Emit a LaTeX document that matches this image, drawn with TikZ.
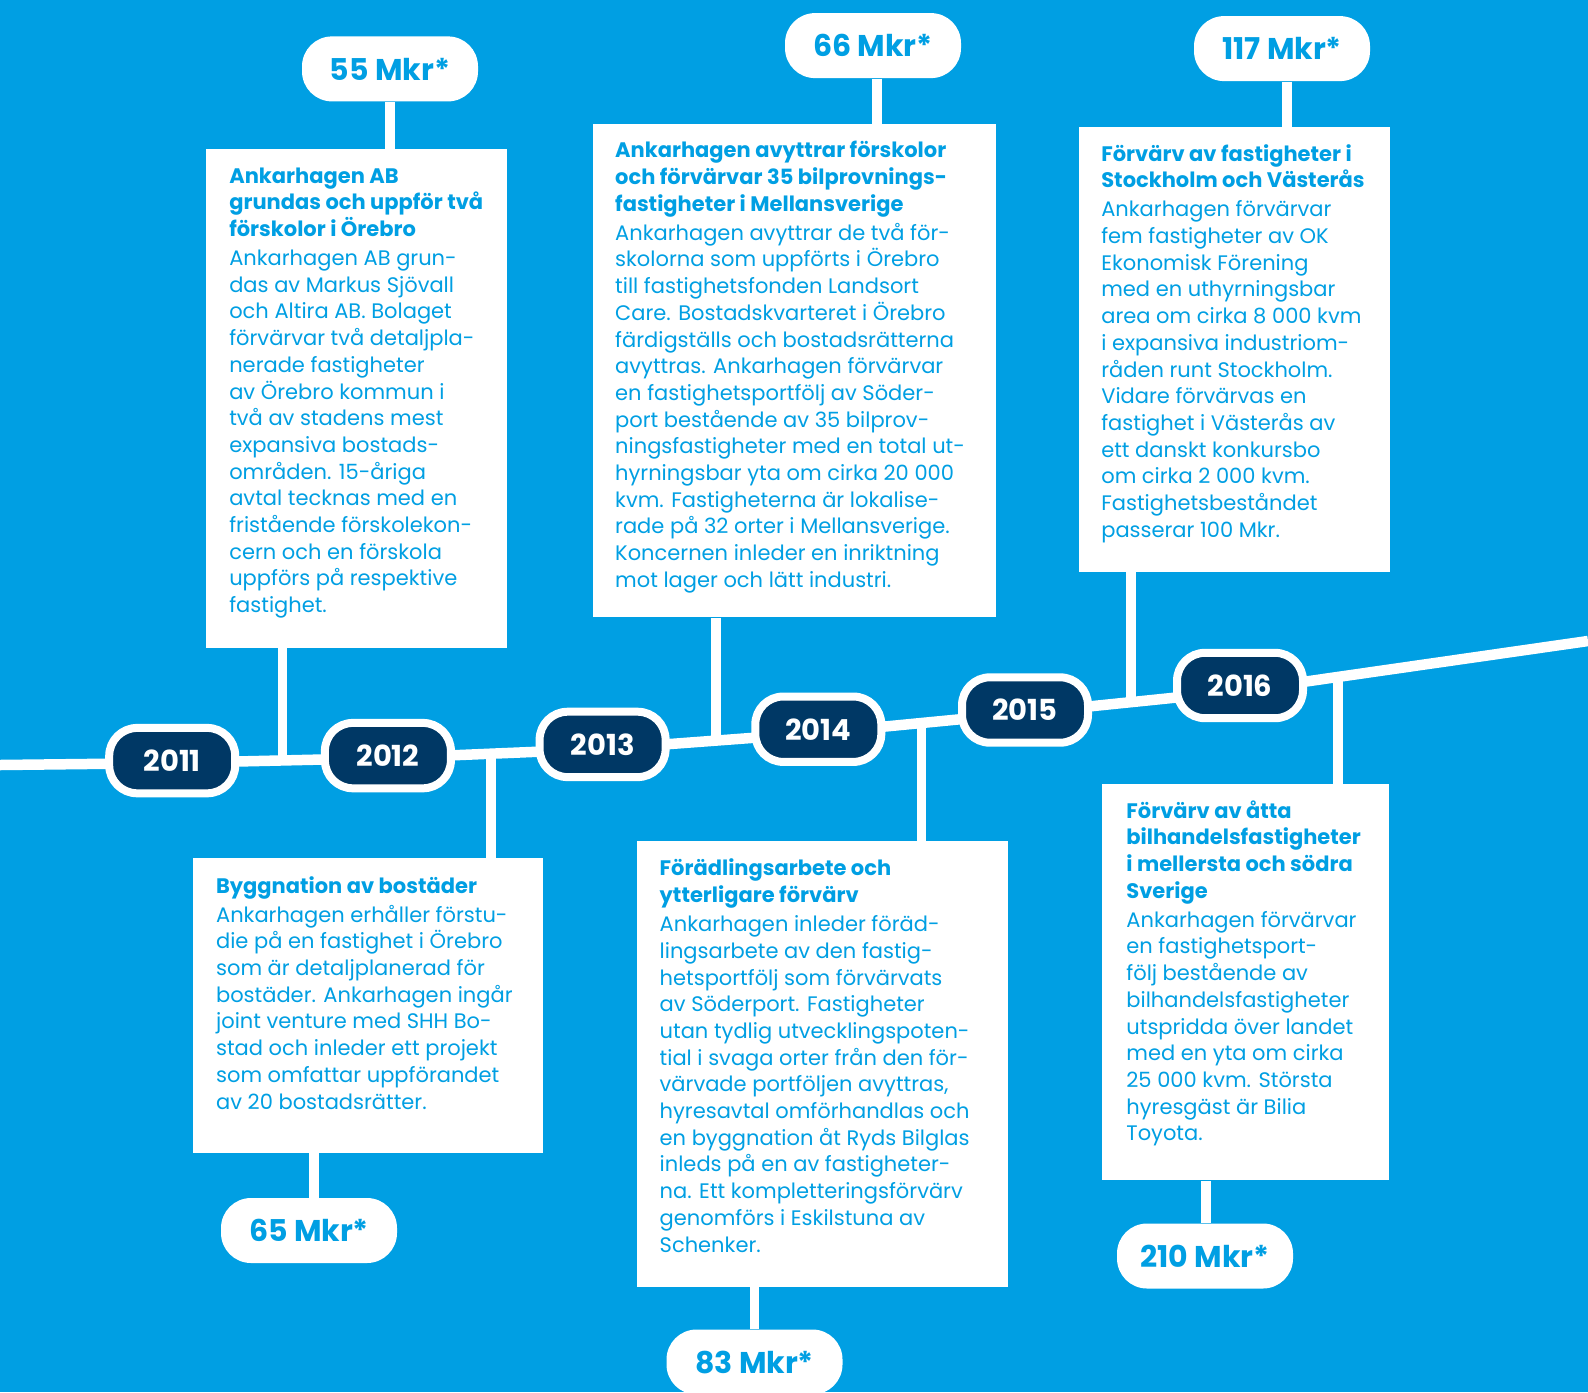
\documentclass[tikz,border=0pt]{standalone}
\usepackage{fontspec}
\setmainfont{Poppins}
\definecolor{bg}{RGB}{0,159,227}
\definecolor{navy}{RGB}{0,56,101}
\newcommand\cardtext[2]{\parbox[t]{260pt}{\raggedright\fontsize{10.5}{13.35}\selectfont\textbf{#1}\\[1.2pt]#2}}
\begin{document}
\begin{tikzpicture}[x=0.5pt,y=-0.5pt,
  card/.style={fill=white, draw=none, anchor=north west, inner sep=0},
  txt/.style={anchor=base west, inner sep=0, text=bg},
  year/.style={draw=white, line width=4pt, fill=navy, rounded corners=14pt,
    minimum width=63pt, minimum height=32.7pt, inner sep=0, text=white,
    font=\bfseries\fontsize{14.5}{14.5}\selectfont},
  value/.style={fill=white, rounded corners=15pt, minimum width=88pt,
    minimum height=32.5pt, inner sep=0, text=bg,
    font=\bfseries\fontsize{15}{15}\selectfont},
  conn/.style={draw=white, line width=4.75pt},
  tline/.style={draw=white, line width=5.25pt, line join=round}]
\fill[bg] (0,0) rectangle (1588,1392);
\useasboundingbox (0,0) rectangle (1588,1392);

% timeline points
\coordinate (s0) at (0,765);
\coordinate (s1) at (172,763);
\coordinate (s2) at (388,758);
\coordinate (s3) at (603,749);
\coordinate (s4) at (818,733);
\coordinate (s5) at (1025,713);
\coordinate (s6) at (1240,691);
\coordinate (s7) at (1588,641);
% connector feet on timeline
\coordinate (f1) at (282.6,760.4);
\coordinate (f2) at (491,753.7);
\coordinate (f3) at (716,740.6);
\coordinate (f4) at (921.6,723);
\coordinate (f5) at (1131,702.3);
\coordinate (f6) at (1338,676.6);
% connector lines of value pills
\coordinate (c1) at (390,0);
\coordinate (c2) at (314,0);
\coordinate (c3) at (877,0);
\coordinate (c4) at (754.5,0);
\coordinate (c5) at (1287,0);
\coordinate (c6) at (1206,0);

% cards
\node[card, minimum width=150.4pt, minimum height=249.15pt] (b1) at (205.6,148.9) {};
\node[card, minimum width=175.25pt, minimum height=147.4pt] (b2) at (192.4,857.8) {};
\node[card, minimum width=201.55pt, minimum height=246.6pt] (b3) at (592.5,123.6) {};
\node[card, minimum width=185.35pt, minimum height=222.85pt] (b4) at (637,840.6) {};
\node[card, minimum width=155.5pt, minimum height=222.3pt] (b5) at (1078.6,126.6) {};
\node[card, minimum width=143.3pt, minimum height=198.05pt] (b6) at (1102,783.9) {};

% value pills
\node[value] (v1) at (390,68.9) {55 Mkr*};
\node[value] (v2) at (309,1230.5) {65 Mkr*};
\node[value] (v3) at (873,45.6) {66 Mkr*};
\node[value] (v4) at (754.5,1362) {83 Mkr*};
\node[value] (v5) at (1282,48.6) {117 Mkr*};
\node[value] (v6) at (1205,1256) {210 Mkr*};

% connectors
\path[conn] (b1.south -| f1) -- (f1);
\path[conn] (f2) -- (b2.north -| f2);
\path[conn] (b3.south -| f3) -- (f3);
\path[conn] (f4) -- (b4.north -| f4);
\path[conn] (b5.south -| f5) -- (f5);
\path[conn] (f6) -- (b6.north -| f6);
\path[conn] (v1.south -| c1) -- (b1.north -| c1);
\path[conn] (v2.north -| c2) -- (b2.south -| c2);
\path[conn] (v3.south -| c3) -- (b3.north -| c3);
\path[conn] (v4.north -| c4) -- (b4.south -| c4);
\path[conn] (v5.south -| c5) -- (b5.north -| c5);
\path[conn] (v6.north -| c6) -- (b6.south -| c6);

% timeline
\path[tline] (s0) -- (s1) -- (s2) -- (s3) -- (s4) -- (s5) -- (s6) -- (s7);

% year pills
\node[year] (y1) at (172.2,760.6) {2011};
\node[year] (y2) at (387.9,755.6) {2012};
\node[year] (y3) at (602.6,744.4) {2013};
\node[year] (y4) at (818.3,729.2) {2014};
\node[year] (y5) at (1025,710) {2015};
\node[year] (y6) at (1240,685.5) {2016};

% texts
\node[txt] (t1) at (228.9,183) {\cardtext{Ankarhagen AB\\ grundas och uppför två\\ förskolor i Örebro}{Ankarhagen AB grun-\\ das av Markus Sjövall\\ och Altira AB. Bolaget\\ förvärvar två detaljpla-\\ nerade fastigheter\\ av Örebro kommun i\\ två av stadens mest\\ expansiva bostads-\\ områden. 15-åriga\\ avtal tecknas med en\\ fristående förskolekon-\\ cern och en förskola\\ uppförs på respektive\\ fastighet.}};

\node[txt] (t2) at (215.7,893) {\cardtext{Byggnation av bostäder}{Ankarhagen erhåller förstu-\\ die på en fastighet i Örebro\\ som är detaljplanerad för\\ bostäder. Ankarhagen ingår\\ joint venture med SHH Bo-\\ stad och inleder ett projekt\\ som omfattar uppförandet\\ av 20 bostadsrätter.}};

\node[txt] (t3) at (614.8,157.7) {\cardtext{Ankarhagen avyttrar förskolor\\ och förvärvar 35 bilprovnings-\\ fastigheter i Mellansverige}{Ankarhagen avyttrar de två för-\\ skolorna som uppförts i Örebro\\ till fastighetsfonden Landsort\\ Care. Bostadskvarteret i Örebro\\ färdigställs och bostadsrätterna\\ avyttras. Ankarhagen förvärvar\\ en fastighetsportfölj av Söder-\\ port bestående av 35 bilprov-\\ ningsfastigheter med en total ut-\\ hyrningsbar yta om cirka 20 000\\ kvm. Fastigheterna är lokalise-\\ rade på 32 orter i Mellansverige.\\ Koncernen inleder en inriktning\\ mot lager och lätt industri.}};

\node[txt] (t4) at (659.3,875.8) {\cardtext{Förädlingsarbete och\\ ytterligare förvärv}{Ankarhagen inleder föräd-\\ lingsarbete av den fastig-\\ hetsportfölj som förvärvats\\ av Söderport. Fastigheter\\ utan tydlig utvecklingspoten-\\ tial i svaga orter från den för-\\ värvade portföljen avyttras,\\ hyresavtal omförhandlas och\\ en byggnation åt Ryds Bilglas\\ inleds på en av fastigheter-\\ na. Ett kompletteringsförvärv\\ genomförs i Eskilstuna av\\ Schenker.}};

\node[txt] (t5) at (1100.9,161) {\cardtext{Förvärv av fastigheter i\\ Stockholm och Västerås}{Ankarhagen förvärvar\\ fem fastigheter av OK\\ Ekonomisk Förening\\ med en uthyrningsbar\\ area om cirka 8 000 kvm\\ i expansiva industriom-\\ råden runt Stockholm.\\ Vidare förvärvas en\\ fastighet i Västerås av\\ ett danskt konkursbo\\ om cirka 2 000 kvm.\\ Fastighetsbeståndet\\ passerar 100 Mkr.}};

\node[txt] (t6) at (1126,818) {\cardtext{Förvärv av åtta\\ bilhandelsfastigheter\\ i mellersta och södra\\ Sverige}{Ankarhagen förvärvar\\ en fastighetsport-\\ följ bestående av\\ bilhandelsfastigheter\\ utspridda över landet\\ med en yta om cirka\\ 25 000 kvm. Största\\ hyresgäst är Bilia\\ Toyota.}};
\end{tikzpicture}
\end{document}
